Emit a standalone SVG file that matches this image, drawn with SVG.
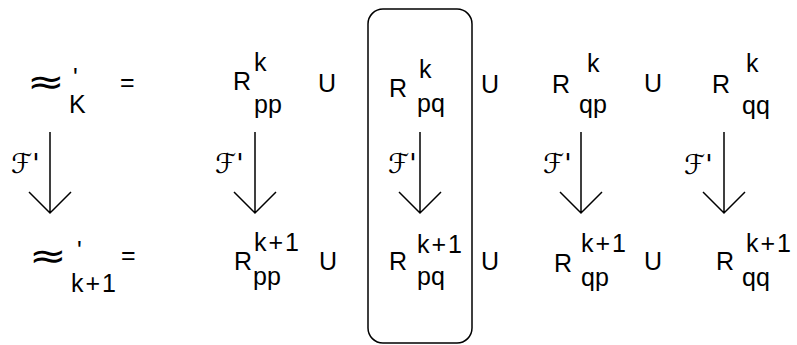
<svg xmlns="http://www.w3.org/2000/svg" width="797" height="345" viewBox="0 0 797 345">
<style>
text{font-family:"Liberation Sans",Arial,sans-serif;font-size:25px;fill:#000}
.sym{font-family:"DejaVu Sans",sans-serif;font-size:36px}
.sc{font-family:"DejaVu Sans","Liberation Serif",serif;font-style:italic;font-size:27px}
.sp{letter-spacing:2px}
.ln{stroke:#000;stroke-width:1.5;fill:none}
</style>
<rect width="797" height="345" fill="#fff"/>
<g id="box"><rect x="368" y="9" width="104" height="334" rx="15" class="ln"/></g>
<g id="lhs-k"><text class="sym" transform="translate(27 94) scale(1.25 1)">≈</text><text x="73" y="86">'</text><text x="69" y="113">K</text><text x="120" y="91">=</text></g>
<g id="lhs-k1"><text class="sym" transform="translate(29 268) scale(1.25 1)">≈</text><text x="77" y="259">'</text><text class="sp" x="71" y="292">k+1</text><text x="121" y="264">=</text></g>
<g id="Rpp-k"><text x="233" y="90">R</text><text x="254" y="71">k</text><text x="254" y="113">pp</text><text x="318" y="92">U</text></g>
<g id="Rpq-k"><text x="389" y="97">R</text><text x="419" y="78">k</text><text x="417" y="112">pq</text><text x="481" y="93">U</text></g>
<g id="Rqp-k"><text x="552" y="93">R</text><text x="587" y="72">k</text><text x="579" y="113">qp</text><text x="644" y="92">U</text></g>
<g id="Rqq-k"><text x="712" y="93">R</text><text x="746" y="72">k</text><text x="742" y="114">qq</text></g>
<g id="Rpp-k1"><text x="234" y="270">R</text><text class="sp" x="254" y="251">k+1</text><text x="253" y="285">pp</text><text x="319" y="270">U</text></g>
<g id="Rpq-k1"><text x="389" y="270">R</text><text class="sp" x="417" y="253">k+1</text><text x="417" y="285">pq</text><text x="481" y="270">U</text></g>
<g id="Rqp-k1"><text x="554" y="272">R</text><text class="sp" x="581" y="252">k+1</text><text x="581" y="286">qp</text><text x="644" y="270">U</text></g>
<g id="Rqq-k1"><text x="716" y="270">R</text><text class="sp" x="746" y="252">k+1</text><text x="742" y="286">qq</text></g>
<g id="connectors">
<path class="ln" d="M50 132V213M29 192L50 213L71 192"/>
<path class="ln" d="M255 132V213M234 192L255 213L276 192"/>
<path class="ln" d="M420 132V213M399 192L420 213L441 192"/>
<path class="ln" d="M581 132V213M560 192L581 213L602 192"/>
<path class="ln" d="M724 132V213M703 192L724 213L745 192"/>
<text class="sc" x="11" y="173">ℱ'</text>
<text class="sc" x="215" y="173">ℱ'</text>
<text class="sc" x="388" y="173">ℱ'</text>
<text class="sc" x="543" y="173">ℱ'</text>
<text class="sc" x="684" y="174">ℱ'</text>
</g>
</svg>
